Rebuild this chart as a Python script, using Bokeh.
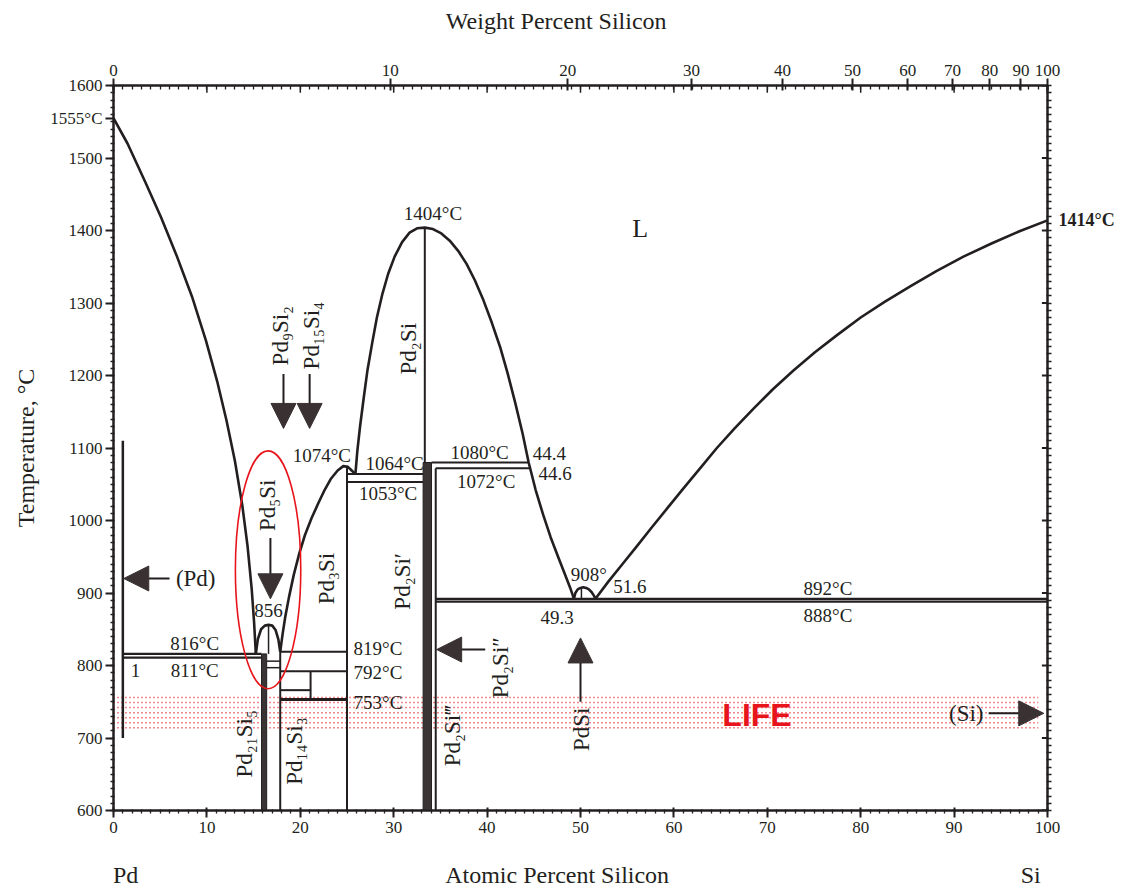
import math
from bokeh.plotting import figure
from bokeh.models import Range1d, LinearAxis, FixedTicker, Label, Arrow, NormalHead
from bokeh.embed import file_html
from bokeh.resources import INLINE

# ---------------- data (at.% Si, temperature in °C) ----------------
liq_pd_x = [0.0, 1.5, 3.4, 5.1, 6.8, 8.4, 9.9, 11.1, 12.1, 13.0, 13.8, 14.35, 14.8, 15.05, 15.24]
liq_pd_T = [1555, 1520, 1467, 1418, 1364, 1309, 1248, 1192, 1138, 1082, 1020, 965, 905, 860, 816]

dome_pd5si_x = [15.24, 15.45, 15.8, 16.2, 16.6, 17.0, 17.35, 17.65, 17.85]
dome_pd5si_T = [816, 836, 850, 855, 856, 855, 849, 836, 819]

liq_pd3si_x = [17.85, 18.1, 18.4, 18.8, 19.3, 19.9, 20.5, 21.2, 21.9, 22.6, 23.3, 24.0, 24.6, 25.1, 25.5, 25.9]
liq_pd3si_T = [819, 843, 868, 895, 925, 955, 980, 1003, 1023, 1042, 1058, 1069, 1075, 1074, 1069, 1064]

liq_pd2si_x = [25.9, 26.1, 26.4, 26.8, 27.2, 27.7, 28.2, 28.8, 29.4, 30.1, 30.9, 31.7, 32.5, 33.33,
               34.2, 35.1, 36.0, 36.9, 37.8, 38.7, 39.6, 40.5, 41.4, 42.2, 43.0, 43.8, 44.45,
               45.2, 46.0, 46.8, 47.6, 48.3, 48.9, 49.3]
liq_pd2si_T = [1064, 1095, 1130, 1170, 1208, 1245, 1280, 1313, 1340, 1364, 1384, 1397, 1403, 1404,
               1402, 1396, 1386, 1372, 1354, 1331, 1304, 1273, 1239, 1203, 1163, 1120, 1080,
               1042, 1008, 977, 950, 927, 907, 892]

dome_pdsi_x = [49.3, 49.45, 49.7, 50.0, 50.3, 50.6, 50.9, 51.2, 51.45, 51.6]
dome_pdsi_T = [892, 900, 905, 907, 908, 907, 905, 901, 896, 892]

liq_si_x = [51.6, 53.0, 54.5, 56.0, 57.6, 59.3, 61.0, 62.8, 64.6, 66.5, 68.5, 70.6, 72.8, 75.1,
            77.5, 80.0, 82.6, 85.3, 88.1, 91.0, 94.0, 97.0, 100.0]
liq_si_T = [892, 916, 940, 964, 990, 1017, 1044, 1072, 1100, 1127, 1154, 1181, 1207, 1232,
            1256, 1280, 1302, 1323, 1344, 1364, 1382, 1399, 1414]

# invariant (horizontal) lines
h_T  = [816, 811, 819, 792, 766, 753, 1064, 1053, 1080, 1072, 892, 888, 806, 797]
h_x0 = [1.0, 1.0, 17.85, 17.85, 17.85, 17.85, 25.0, 25.0, 34.05, 34.5, 34.5, 34.5, 16.4, 16.4]
h_x1 = [15.85, 15.85, 25.0, 25.0, 21.1, 25.0, 33.15, 33.15, 44.45, 44.6, 100.0, 100.0, 17.85, 17.85]

# phase boundaries (vertical lines)
v_x  = [1.0, 16.6, 17.85, 21.1, 25.0, 33.33, 34.5, 50.1]
v_T0 = [700, 816, 600, 753, 600, 1080, 600, 892]
v_T1 = [1110, 856, 819, 792, 1074, 1404, 1072, 908]

# compound bands
band_left  = [15.85, 33.15]
band_right = [16.4, 34.05]
band_T1    = [816, 1080]

# LIFE band
life_T = [756, 749, 742, 735, 728, 721, 714]

# melting points of the pure elements
tm_pd = 1555
tm_si = 1414

# axes
temp_ticks = list(range(600, 1601, 100))
at_ticks = list(range(0, 101, 10))
wt_labels = [0, 10, 20, 30, 40, 50, 60, 70, 80, 90, 100]

M_PD, M_SI = 106.42, 28.0855


def wt_to_at(w):
    if w <= 0:
        return 0.0
    if w >= 100:
        return 100.0
    a = w / M_SI
    b = (100 - w) / M_PD
    return round(100 * a / (a + b), 3)


INK = "#231f20"
BAND = "#3b3434"
RED = "#e8141c"
SERIF = "Liberation Serif"

p = figure(width=1130, height=890, x_range=Range1d(0, 100), y_range=Range1d(600, 1600),
           output_backend="svg", toolbar_location=None,
           min_border_left=113, min_border_right=83, min_border_top=85, min_border_bottom=80)
p.grid.visible = False
p.outline_line_color = INK
p.outline_line_width = 2
p.background_fill_color = "white"
p.border_fill_color = "white"


def style_axis(ax, label_size="17px"):
    ax.axis_line_color = INK
    ax.axis_line_width = 2
    ax.major_tick_line_color = INK
    ax.minor_tick_line_color = INK
    ax.major_tick_line_width = 2
    ax.minor_tick_line_width = 1.3
    ax.major_label_text_font = SERIF
    ax.major_label_text_font_size = label_size
    ax.major_label_text_color = INK
    ax.axis_label_text_font = SERIF
    ax.axis_label_text_font_style = "normal"
    ax.axis_label_text_color = INK


def title_axis(ax):
    ax.axis_line_color = None
    ax.major_tick_line_color = None
    ax.minor_tick_line_color = None
    ax.major_label_text_font = SERIF
    ax.major_label_text_font_size = "24px"
    ax.major_label_text_color = INK


# bottom axis (atomic percent)
xa = p.xaxis[0]
xa.ticker = FixedTicker(ticks=at_ticks, minor_ticks=list(range(0, 101)))
style_axis(xa)
xa.major_tick_out = 7
xa.major_tick_in = 3
xa.minor_tick_out = 3
xa.minor_tick_in = 1
xa.major_label_standoff = 4

# bottom title row: Pd ... Atomic Percent Silicon ... Si
bt_pos = [1.3, 47.5, 98.2]
bt_txt = ["Pd", "Atomic Percent Silicon", "Si"]
bt = LinearAxis(ticker=FixedTicker(ticks=bt_pos, minor_ticks=[]))
title_axis(bt)
bt.major_label_overrides = {k: t for k, t in zip(bt_pos, bt_txt)}
bt.major_label_standoff = 20
p.add_layout(bt, "below")

# left axis (temperature) with Pd melting point
ya = p.yaxis[0]
ya.ticker = FixedTicker(ticks=temp_ticks + [tm_pd], minor_ticks=list(range(600, 1601, 10)))
style_axis(ya)
ya.major_label_overrides = {tm_pd: f"{tm_pd}°C"}
ya.major_tick_out = 8
ya.major_tick_in = 0
ya.minor_tick_out = 3
ya.minor_tick_in = 1
ya.major_label_standoff = 3
ya.axis_label = "Temperature, °C"
ya.axis_label_text_font_size = "24px"
ya.axis_label_standoff = 8

# right axis with Si melting point
ra = LinearAxis(ticker=FixedTicker(ticks=[tm_si], minor_ticks=list(range(600, 1601, 10))))
style_axis(ra, "18px")
ra.major_label_overrides = {tm_si: f"{tm_si}°C"}
ra.major_label_text_font_style = "bold"
ra.major_tick_out = 0
ra.major_tick_in = 0
ra.minor_tick_out = 4
ra.minor_tick_in = 1
ra.major_label_standoff = 7
p.add_layout(ra, "right")

# 100-degree marks on the right ruler
p.segment(x0=[99.4] * len(temp_ticks), y0=temp_ticks, x1=[100] * len(temp_ticks), y1=temp_ticks,
          line_color=INK, line_width=2)

# top axis (weight percent)
wt_pos = [wt_to_at(w) for w in wt_labels]
ta = LinearAxis(ticker=FixedTicker(ticks=wt_pos, minor_ticks=list(range(0, 101))))
style_axis(ta)
ta.major_label_overrides = {pos: str(w) for pos, w in zip(wt_pos, wt_labels)}
ta.major_tick_out = 7
ta.major_tick_in = 5
ta.minor_tick_out = 0
ta.minor_tick_in = 4
ta.major_label_standoff = 3
p.add_layout(ta, "above")

tt_pos = [47.4]
tt = LinearAxis(ticker=FixedTicker(ticks=tt_pos, minor_ticks=[]))
title_axis(tt)
tt.major_label_overrides = {tt_pos[0]: "Weight Percent Silicon"}
tt.major_label_standoff = 22
p.add_layout(tt, "above")

# medium inward ticks of the top ruler (every 10 at.%)
p.segment(x0=at_ticks, y0=[1600] * len(at_ticks), x1=at_ticks, y1=[1590] * len(at_ticks),
          line_color=INK, line_width=1.5)

# ---------------- LIFE band ----------------
p.segment(x0=[0.0] * len(life_T), y0=life_T, x1=[99.0] * len(life_T), y1=life_T,
          line_color=RED, line_width=1.5, line_dash="1 3")

# ---------------- phase diagram lines ----------------
for xs, ts in [(liq_pd_x, liq_pd_T), (dome_pd5si_x, dome_pd5si_T), (liq_pd3si_x, liq_pd3si_T),
               (liq_pd2si_x, liq_pd2si_T), (dome_pdsi_x, dome_pdsi_T), (liq_si_x, liq_si_T)]:
    p.line(xs, ts, line_color=INK, line_width=2.6, line_join="round")

h_w = [2.2, 2.2, 2, 2, 2, 3, 2, 2, 2, 2, 2.2, 2.2, 1.5, 1.5]
p.segment(x0=h_x0, y0=h_T, x1=h_x1, y1=h_T, line_color=INK, line_width=h_w)

v_w = [2.5, 1.5, 2, 2, 2, 2, 2, 1.5]
p.segment(x0=v_x, y0=v_T0, x1=v_x, y1=v_T1, line_color=INK, line_width=v_w)

p.quad(left=band_left, right=band_right, bottom=[600, 600], top=band_T1,
       fill_color=BAND, line_color=INK, line_width=1)

# red ellipse around Pd5Si
p.ellipse(x=[16.55], y=[932], width=[7.0], height=[328], fill_color=None,
          line_color=RED, line_width=1.6)

# ---------------- arrows ----------------
arrows = [
    (6.0, 920, 1.1, 920),      # (Pd)
    (16.8, 976, 16.8, 892),    # Pd5Si
    (18.2, 1202, 18.2, 1127),  # Pd9Si2
    (21.0, 1202, 21.0, 1127),  # Pd15Si4
    (39.8, 822, 34.6, 822),    # Pd2Si''
    (50.0, 750, 50.0, 838),    # PdSi
    (93.7, 734, 99.6, 734),    # (Si)
]
for xs0, ys0, xs1, ys1 in arrows:
    p.add_layout(Arrow(x_start=xs0, y_start=ys0, x_end=xs1, y_end=ys1,
                       line_color=INK, line_width=2,
                       end=NormalHead(size=25, fill_color="#3a3232", line_color="#3a3232",
                                      line_width=1)))


def lab(x, y, text, size=19, align="center", baseline="middle", angle=0.0, bold=False,
        color=INK, font=SERIF):
    p.add_layout(Label(x=x, y=y, text=text, text_font=font, text_font_size=f"{size}px",
                       text_align=align, text_baseline=baseline, angle=angle,
                       text_font_style="bold" if bold else "normal", text_color=color))


V = math.pi / 2

# temperatures / compositions
lab(34.2, 1423, "1404°C")
lab(22.3, 1090, "1074°C")
lab(30.1, 1078, "1064°C")
lab(29.4, 1037, "1053°C")
lab(39.2, 1094, "1080°C")
lab(39.9, 1054, "1072°C")
lab(44.9, 1092, "44.4", align="left")
lab(45.5, 1065, "44.6", align="left")
lab(50.9, 925, "908°")
lab(53.5, 909, "51.6", align="left")
lab(47.5, 866, "49.3")
lab(76.5, 906, "892°C")
lab(76.5, 869, "888°C")
lab(8.7, 830, "816°C")
lab(8.7, 793, "811°C")
lab(2.35, 793, "1")
lab(16.6, 876, "856")
lab(25.7, 824, "819°C", align="left")
lab(25.7, 790, "792°C", align="left")
lab(25.7, 749, "753°C", align="left")
lab(56.4, 1403, "L", size=26)

# phase names (rotated)
lab(31.6, 1237, "Pd₂Si", size=23, angle=V)
lab(30.9, 916, "Pd₂Si′", size=23, angle=V)
lab(22.8, 920, "Pd₃Si", size=23, angle=V)
lab(16.5, 1021, "Pd₅Si", size=23, angle=V)
lab(17.9, 1255, "Pd₉Si₂", size=23, angle=V)
lab(21.2, 1255, "Pd₁₅Si₄", size=23, angle=V)
lab(41.4, 797, "Pd₂Si″", size=23, angle=V)
lab(36.3, 703, "Pd₂Si‴", size=23, angle=V)
lab(50.1, 712, "PdSi", size=23, angle=V)
lab(14.0, 692, "Pd₂₁Si₅", size=23, angle=V)
lab(19.4, 682, "Pd₁₄Si₃", size=23, angle=V)
lab(91.3, 734, "(Si)", size=23)
lab(8.8, 920, "(Pd)", size=23)

# LIFE
lab(68.9, 732, "LIFE", size=32, bold=True, color=RED, font="Liberation Sans")

open("out.html", "w").write(file_html(p, INLINE))
